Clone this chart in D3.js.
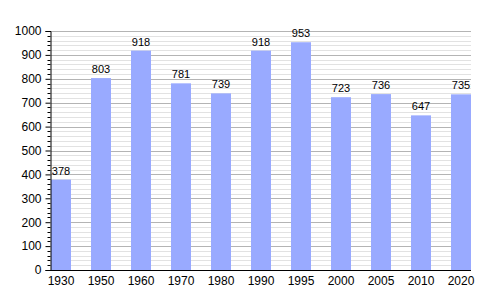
<!DOCTYPE html>
<html>
<head>
<meta charset="utf-8">
<script src="https://cdn.jsdelivr.net/npm/d3@7"></script>
<style>
  body { margin: 0; background: #fff; }
  svg { display: block; font-family: "Liberation Sans", Arial, sans-serif; }
</style>
</head>
<body>
<div class="chart"></div>
<script>
const years = ["1930", "1950", "1960", "1970", "1980", "1990", "1995", "2000", "2005", "2010", "2020"];
const population = [378, 803, 918, 781, 739, 918, 953, 723, 736, 647, 735];
const yTicks = [0, 100, 200, 300, 400, 500, 600, 700, 800, 900, 1000];

const width = 500;
const height = 300;
const plotLeft = 51, plotRight = 471, plotTop = 31, plotBottom = 270;

const svg = d3.select(".chart")
    .append("svg")
    .attr("width", width)
    .attr("height", height);

const x = d3.scaleBand()
    .domain(years)
    .range([plotLeft, plotRight])
    .paddingInner(0.5)
    .paddingOuter(0);

const y = d3.scaleLinear()
    .domain([0, 1000])
    .range([plotBottom, plotTop]);

// minor grid every 20
const minor = d3.range(0, 1001, 20).filter(v => v % 100 !== 0);

svg.append("g")
    .selectAll("line")
    .data(minor)
    .enter()
    .append("line")
    .attr("x1", plotLeft)
    .attr("x2", plotRight)
    .attr("y1", d => Math.round(y(d)) + 0.5)
    .attr("y2", d => Math.round(y(d)) + 0.5)
    .attr("stroke", "#e2e2e2");

svg.append("g")
    .selectAll("line")
    .data(yTicks.filter(v => v > 0))
    .enter()
    .append("line")
    .attr("x1", plotLeft)
    .attr("x2", plotRight)
    .attr("y1", d => Math.round(y(d)) + 0.5)
    .attr("y2", d => Math.round(y(d)) + 0.5)
    .attr("stroke", "#b4b4b4");

// bars
svg.selectAll("rect.bar")
    .data(years)
    .enter()
    .append("rect")
    .attr("class", "bar")
    .attr("x", d => x(d))
    .attr("width", x.bandwidth())
    .attr("y", (d, i) => y(population[i]))
    .attr("height", (d, i) => plotBottom - y(population[i]))
    .attr("fill", "#99aaff");

// value labels
svg.selectAll("text.val")
    .data(years)
    .enter()
    .append("text")
    .attr("class", "val")
    .attr("x", d => x(d) + x.bandwidth() / 2)
    .attr("y", (d, i) => y(population[i]) - 5)
    .attr("text-anchor", "middle")
    .style("font-size", "11px")
    .attr("fill", "#000")
    .text((d, i) => population[i]);

// y axis
const yAxis = svg.append("g")
    .attr("transform", `translate(${plotLeft - 0.5},0)`)
    .call(d3.axisLeft(y).tickValues(yTicks).tickFormat(d3.format("d")).tickSize(5).tickPadding(4))
    .style("font-family", "inherit");
yAxis.selectAll("text").style("font-size", "12px").attr("fill", "#000");
yAxis.select(".domain").attr("stroke", "#000");

svg.append("g")
    .selectAll("line")
    .data(minor)
    .enter()
    .append("line")
    .attr("x1", plotLeft - 3.5)
    .attr("x2", plotLeft - 0.5)
    .attr("y1", d => Math.round(y(d)) + 0.5)
    .attr("y2", d => Math.round(y(d)) + 0.5)
    .attr("stroke", "#000");

// x axis
svg.append("line")
    .attr("x1", plotLeft - 1)
    .attr("x2", plotRight)
    .attr("y1", plotBottom + 0.5)
    .attr("y2", plotBottom + 0.5)
    .attr("stroke", "#000");

svg.selectAll("text.year")
    .data(years)
    .enter()
    .append("text")
    .attr("class", "year")
    .attr("x", d => x(d) + x.bandwidth() / 2)
    .attr("y", plotBottom + 15)
    .attr("text-anchor", "middle")
    .style("font-size", "12px")
    .attr("fill", "#000")
    .text(d => d);
</script>
</body>
</html>
